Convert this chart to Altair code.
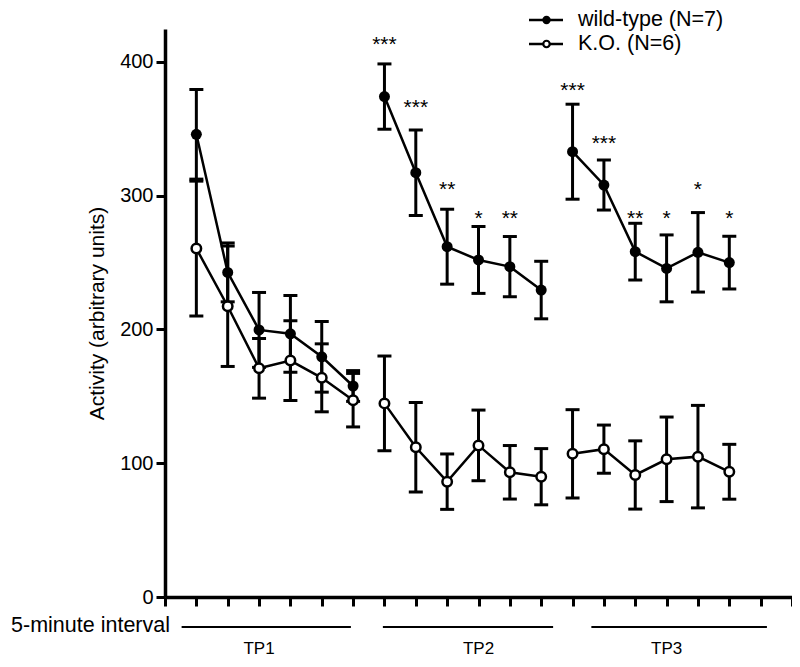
import altair as alt
import pandas as pd

# ---- data ----
interval = list(range(1, 19))
period = ["TP1"] * 6 + ["TP2"] * 6 + ["TP3"] * 6

wt_mean = [345.8, 242.6, 199.6, 196.7, 179.5, 157.7,
           374.0, 317.1, 261.8, 251.9, 246.9, 229.4,
           332.8, 307.9, 258.1, 245.6, 257.6, 249.9]
wt_sem = [33.5, 22.0, 28.0, 28.7, 26.4, 11.5,
          24.4, 32.0, 28.0, 25.0, 22.5, 21.5,
          35.5, 18.7, 21.2, 25.0, 29.7, 19.7]
ko_mean = [260.4, 217.3, 170.9, 176.7, 163.8, 147.1,
           144.7, 111.9, 86.2, 113.3, 93.2, 89.9,
           107.0, 110.5, 91.2, 102.9, 104.9, 93.6]
ko_sem = [50.4, 45.0, 22.3, 29.8, 25.4, 20.0,
          35.4, 33.5, 20.7, 26.4, 20.0, 21.0,
          33.0, 18.0, 25.5, 31.6, 38.3, 20.5]

series_names = ["wild-type (N=7)", "K.O. (N=6)"]

star_interval = [7, 8, 9, 10, 11, 13, 14, 15, 16, 17, 18]
star_text = ["***", "***", "**", "*", "**", "***", "***", "**", "*", "*", "*"]
star_y = [417, 370, 309, 287, 287, 383, 343, 287, 287, 309, 287]

period_labels = ["TP1", "TP2", "TP3"]
period_start = [0.53, 6.95, 13.6]
period_end = [5.93, 12.38, 19.2]
period_label_x = [3.0, 10.0, 16.0]

x_ticks = list(range(0, 21))
y_ticks = [0, 100, 200, 300, 400]

FONT = "Liberation Sans, Arial, Helvetica, sans-serif"

# ---- tables ----
rows = []
for name, means, sems in [(series_names[0], wt_mean, wt_sem), (series_names[1], ko_mean, ko_sem)]:
    for i, p, m, s in zip(interval, period, means, sems):
        rows.append({"interval": i, "period": p, "series": name, "mean": m,
                     "lo": m - s, "hi": m + s, "key": name + p})
df = pd.DataFrame(rows)
wt_df = df[df.series == series_names[0]]
ko_df = df[df.series == series_names[1]]

stars_df = pd.DataFrame({"interval": star_interval, "mean": star_y, "txt": star_text})
periods_df = pd.DataFrame({"label": period_labels, "start": period_start,
                           "end": period_end, "mid": period_label_x})

xscale = alt.Scale(domain=[0, 20], nice=False, zero=False)
yscale = alt.Scale(domain=[0, 424.5], nice=False)
xaxis = alt.Axis(values=x_ticks, labels=False, title=None, grid=False,
                 tickSize=9, tickWidth=3, domainWidth=3.5,
                 tickColor="black", domainColor="black")
yaxis = alt.Axis(values=y_ticks, title="Activity (arbitrary units)", grid=False,
                 tickSize=9, tickWidth=3, domainWidth=3.5, tickColor="black",
                 domainColor="black", labelFont=FONT, labelFontSize=20,
                 labelColor="black", labelPadding=3, titleFont=FONT,
                 titleFontSize=21, titleFontWeight="normal", titleColor="black",
                 titlePadding=12)


def X(field="interval"):
    return alt.X(f"{field}:Q", scale=xscale, axis=xaxis)


def Y(field="mean"):
    return alt.Y(f"{field}:Q", scale=yscale, axis=yaxis)


lines = alt.Chart(df).mark_line(color="black", strokeWidth=2.5).encode(
    x=X(), y=Y(), detail="key:N", order="interval:Q")

bars = alt.Chart(df).mark_rule(color="black", strokeWidth=3).encode(
    x=X(), y=Y("lo"), y2="hi:Q")
caps_lo = alt.Chart(df).mark_tick(color="black", orient="horizontal", size=14,
                                  thickness=3, opacity=1).encode(x=X(), y=Y("lo"))
caps_hi = alt.Chart(df).mark_tick(color="black", orient="horizontal", size=14,
                                  thickness=3, opacity=1).encode(x=X(), y=Y("hi"))

wt_pts = alt.Chart(wt_df).mark_point(shape="circle", filled=True, color="black",
                                     size=121, opacity=1).encode(x=X(), y=Y())
ko_pts = alt.Chart(ko_df).mark_point(shape="circle", fill="white", stroke="black",
                                     strokeWidth=2.5, size=90, opacity=1,
                                     fillOpacity=1).encode(x=X(), y=Y())

stars = alt.Chart(stars_df).mark_text(font=FONT, fontSize=21, color="black",
                                      baseline="alphabetic", dy=12).encode(
    x=X(), y=Y(), text="txt:N")

seg = alt.Chart(periods_df).mark_rule(color="black", strokeWidth=2).encode(
    x=X("start"), x2="end:Q", y=alt.value(598))
seg_txt = alt.Chart(periods_df).mark_text(font=FONT, fontSize=17, color="black",
                                          baseline="alphabetic").encode(
    x=X("mid"), y=alt.value(625), text="label:N")

xlabel = alt.Chart(pd.DataFrame({"t": ["5-minute interval"]})).mark_text(
    font=FONT, fontSize=21.5, color="black", align="right", baseline="middle").encode(
    x=alt.value(5), y=alt.value(597), text="t:N")

# manual legend
leg = []
for i, (name, yy) in enumerate(zip(series_names, [-9, 15])):
    d = pd.DataFrame({"label": [name]})
    leg.append(alt.Chart(d).mark_rule(color="black", strokeWidth=2.5).encode(
        x=alt.value(364), x2=alt.value(398), y=alt.value(yy)))
    if i == 0:
        leg.append(alt.Chart(d).mark_point(shape="circle", filled=True, color="black",
                                           size=70, opacity=1).encode(
            x=alt.value(381.5), y=alt.value(yy)))
    else:
        leg.append(alt.Chart(d).mark_point(shape="circle", fill="white", stroke="black",
                                           strokeWidth=2.2, size=42, opacity=1,
                                           fillOpacity=1).encode(
            x=alt.value(381.5), y=alt.value(yy)))
    leg.append(alt.Chart(d).mark_text(font=FONT, fontSize=21.5, color="black",
                                      align="left", baseline="middle").encode(
        x=alt.value(413), y=alt.value(yy), text="label:N"))

chart = alt.layer(lines, bars, caps_lo, caps_hi, wt_pts, ko_pts, stars,
                  seg, seg_txt, xlabel, *leg).properties(
    width=627, height=568,
    padding={"left": 157, "top": 21, "right": 0, "bottom": 62},
    autosize=alt.AutoSizeParams(type="none"),
    background="white",
).configure_view(strokeWidth=0).configure_axis(
    domainWidth=3.5, tickWidth=3, domainColor="black", tickColor="black"
)

chart.save("out.html", embed_options={"renderer": "svg", "actions": False})
